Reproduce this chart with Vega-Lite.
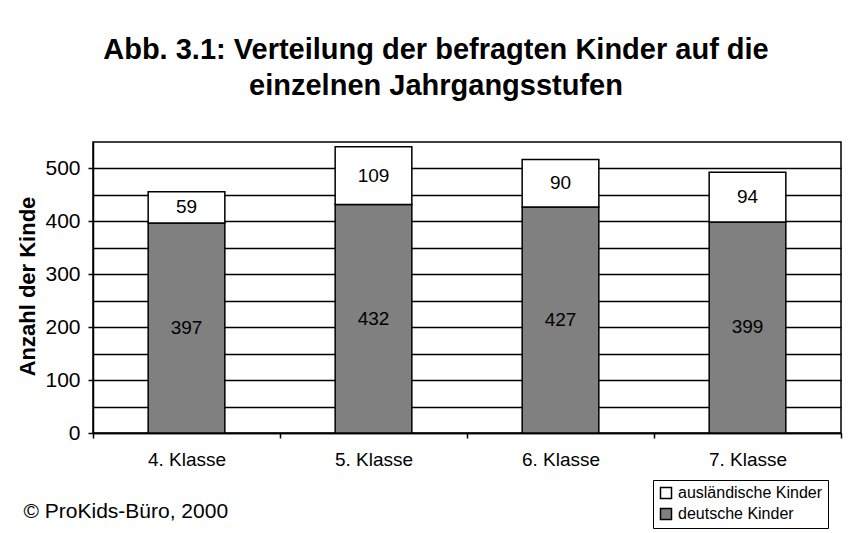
{
  "$schema": "https://vega.github.io/schema/vega-lite/v6.json",
  "width": 748,
  "height": 291,
  "autosize": {"type": "none"},
  "padding": {"left": 93, "top": 142, "right": 11, "bottom": 100},
  "background": "white",
  "config": {
    "font": "Liberation Sans",
    "view": {"stroke": "black", "strokeWidth": 1.5},
    "text": {"font": "Liberation Sans"},
    "axisY": {
      "title": "Anzahl der Kinde",
      "titleFont": "Liberation Sans",
      "titleFontSize": 22,
      "titleFontWeight": "bold",
      "titleColor": "black",
      "titleAngle": -90,
      "titleX": -66,
      "titleY": 144,
      "titleAlign": "center",
      "titleBaseline": "middle",
      "labelFont": "Liberation Sans",
      "labelFontSize": 21,
      "labelColor": "black",
      "labelPadding": 8,
      "labelOverlap": false,
      "tickSize": 5,
      "tickWidth": 1.5,
      "grid": true,
      "gridColor": "black",
      "gridWidth": 1.5,
      "gridOpacity": 1,
      "domainColor": "black",
      "domainWidth": 1.5
    }
  },
  "title": {
    "text": ["Abb. 3.1: Verteilung der befragten Kinder auf die", "einzelnen Jahrgangsstufen"],
    "font": "Liberation Sans",
    "fontSize": 29,
    "fontWeight": "bold",
    "color": "black",
    "anchor": "middle",
    "dx": -31,
    "offset": 41,
    "lineHeight": 36
  },
  "data": {
    "values": [
      {"Klasse": "4. Klasse", "Gruppe": "deutsche Kinder", "Anzahl": 397},
      {"Klasse": "4. Klasse", "Gruppe": "ausländische Kinder", "Anzahl": 59},
      {"Klasse": "5. Klasse", "Gruppe": "deutsche Kinder", "Anzahl": 432},
      {"Klasse": "5. Klasse", "Gruppe": "ausländische Kinder", "Anzahl": 109},
      {"Klasse": "6. Klasse", "Gruppe": "deutsche Kinder", "Anzahl": 427},
      {"Klasse": "6. Klasse", "Gruppe": "ausländische Kinder", "Anzahl": 90},
      {"Klasse": "7. Klasse", "Gruppe": "deutsche Kinder", "Anzahl": 399},
      {"Klasse": "7. Klasse", "Gruppe": "ausländische Kinder", "Anzahl": 94}
    ]
  },
  "encoding": {
    "x": {
      "field": "Klasse",
      "type": "nominal",
      "scale": {"paddingInner": 0, "paddingOuter": 0},
      "axis": {
        "title": "© ProKids-Büro, 2000",
        "titleFont": "Liberation Sans",
        "titleFontSize": 21,
        "titleFontWeight": "normal",
        "titleColor": "black",
        "titleX": -70,
        "titleY": 84,
        "titleAlign": "left",
        "titleBaseline": "alphabetic",
        "titleAnchor": "start",
        "labelAngle": 0,
        "labelFont": "Liberation Sans",
        "labelFontSize": 19,
        "labelColor": "black",
        "labelPadding": 12,
        "tickBand": "extent",
        "tickColor": "black",
        "tickWidth": 1.5,
        "tickSize": 5,
        "domainColor": "black",
        "domainWidth": 1.5
      }
    },
    "order": {"field": "Gruppe", "sort": "descending"}
  },
  "layer": [
    {
      "mark": {"type": "bar", "width": {"band": 0.41}, "stroke": "black", "strokeWidth": 1.5},
      "encoding": {
        "y": {
          "field": "Anzahl",
          "type": "quantitative",
          "stack": "zero",
          "scale": {"domain": [0, 550], "nice": false},
          "axis": {
            "title": "Anzahl der Kinde",
            "values": [0, 50, 100, 150, 200, 250, 300, 350, 400, 450, 500],
            "labelExpr": "datum.value % 100 === 0 ? datum.label : ''",
            "tickColor": {"condition": {"test": "datum.value % 100 === 0", "value": "black"}, "value": "transparent"}
          }
        },
        "color": {
          "field": "Gruppe",
          "type": "nominal",
          "scale": {"domain": ["ausländische Kinder", "deutsche Kinder"], "range": ["#ffffff", "#808080"]},
          "legend": {
            "title": null,
            "orient": "none",
            "legendX": 560,
            "legendY": 338,
            "padding": 5,
            "fillColor": "white",
            "strokeColor": "black",
            "symbolType": "square",
            "symbolSize": 121,
            "symbolStrokeColor": "black",
            "symbolStrokeWidth": 1.5,
            "symbolOpacity": 1,
            "labelFont": "Liberation Sans",
            "labelFontSize": 16,
            "labelColor": "black",
            "labelOffset": 4,
            "rowPadding": 3
          }
        }
      }
    },
    {
      "mark": {"type": "text", "fontSize": 19, "color": "black", "baseline": "middle", "align": "center"},
      "encoding": {
        "y": {
          "field": "Anzahl",
          "type": "quantitative",
          "stack": "zero",
          "bandPosition": 0.5,
          "axis": {
            "title": "Anzahl der Kinde",
            "values": [0, 50, 100, 150, 200, 250, 300, 350, 400, 450, 500],
            "labelExpr": "datum.value % 100 === 0 ? datum.label : ''",
            "tickColor": {"condition": {"test": "datum.value % 100 === 0", "value": "black"}, "value": "transparent"}
          }
        },
        "text": {"field": "Anzahl", "type": "quantitative"}
      }
    }
  ]
}
